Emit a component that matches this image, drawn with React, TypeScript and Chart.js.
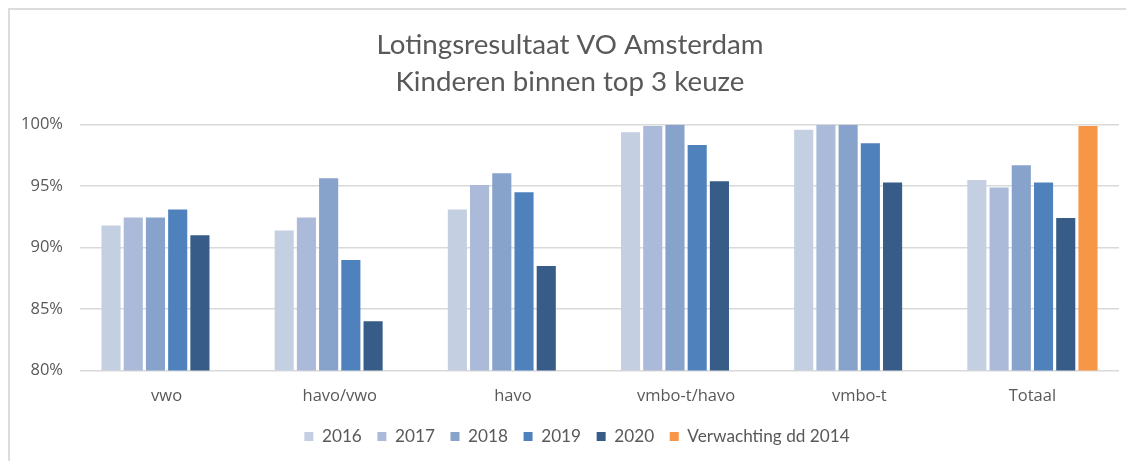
import React, { useEffect, useRef } from "react";
import { Chart, registerables } from "chart.js";

Chart.register(...registerables);

const categories = ["vwo", "havo/vwo", "havo", "vmbo-t/havo", "vmbo-t", "Totaal"];
const seriesLabels = ["2016", "2017", "2018", "2019", "2020", "Verwachting dd 2014"];
const values2016 = [91.8, 91.4, 93.1, 99.4, 99.6, 95.5];
const values2017 = [92.45, 92.45, 95.1, 99.9, 100, 94.9];
const values2018 = [92.45, 95.65, 96.05, 100, 100, 96.7];
const values2019 = [93.1, 89.0, 94.5, 98.35, 98.5, 95.3];
const values2020 = [91.0, 84.0, 88.5, 95.4, 95.3, 92.4];
const valuesVerwachting = [null, null, null, null, null, 99.9];
const seriesColors = ["#C5CFE2", "#ABBAD8", "#87A2CB", "#4F81BD", "#365C87", "#F79646"];
const yTicks = { min: 80, max: 100, step: 5 };

const TITLE_FONT = "Lato, 'Open Sans', sans-serif";
const AXIS_FONT = "'Open Sans', 'DejaVu Sans', sans-serif";

const legendShift = {
  id: "legendShift",
  afterLayout(chart: any) {
    if (chart.legend) {
      chart.legend.top -= 10;
      chart.legend.bottom -= 10;
      chart.legend.left += 7;
      chart.legend.right += 7;
    }
  },
};

export default function App() {
  const ref = useRef<HTMLCanvasElement | null>(null);
  useEffect(() => {
    if (!ref.current) return;
    const all = [values2016, values2017, values2018, values2019, values2020, valuesVerwachting];
    const chart = new Chart(ref.current, {
      type: "bar",
      data: {
        labels: categories,
        datasets: all.map((d, i) => ({
          label: seriesLabels[i],
          data: d as any,
          backgroundColor: seriesColors[i],
          borderWidth: 0,
          categoryPercentage: 0.77,
          barPercentage: 0.86,
        })),
      },
      plugins: [legendShift],
      options: {
        responsive: false,
        animation: false,
        layout: { padding: { left: 11, right: 15, top: 16, bottom: -4 } },
        plugins: {
          title: {
            display: true,
            text: ["Lotingsresultaat VO Amsterdam", "Kinderen binnen top 3 keuze"],
            color: "#595959",
            font: { family: TITLE_FONT, size: 27.7, weight: "normal", lineHeight: 1.35 },
            padding: { top: 0, bottom: 24 },
          },
          legend: {
            position: "bottom",
            labels: {
              color: "#595959",
              font: { family: TITLE_FONT, size: 17.2 },
              boxWidth: 9,
              boxHeight: 9,
              padding: 15.6,
            },
          },
          tooltip: { enabled: false },
        },
        scales: {
          x: {
            grid: { display: false, drawTicks: false },
            border: { display: false },
            ticks: { color: "#595959", font: { family: AXIS_FONT, size: 16.5 }, padding: 16 },
          },
          y: {
            min: yTicks.min,
            max: yTicks.max,
            grid: { color: "#D9D9D9", lineWidth: 1.5, drawTicks: false },
            border: { display: false },
            afterFit: (s: any) => {
              s.width = 59;
            },
            ticks: {
              stepSize: yTicks.step,
              color: "#595959",
              font: { family: AXIS_FONT, size: 16.5 },
              padding: 17,
              callback: (v: any) => v + "%",
            },
          },
        },
      },
    });
    return () => chart.destroy();
  }, []);
  return (
    <div
      style={{
        width: 1124,
        height: 451,
        borderTop: "2px solid #DCDCDC",
        borderLeft: "2px solid #DCDCDC",
        background: "#fff",
      }}
    >
      <canvas ref={ref} width={1124} height={451} style={{ display: "block" }} />
    </div>
  );
}
